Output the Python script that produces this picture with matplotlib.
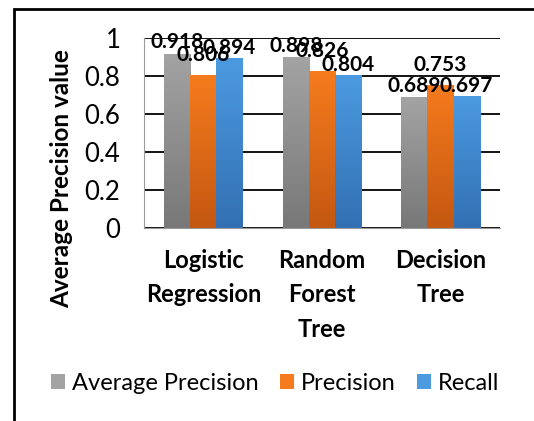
import numpy as np
import matplotlib.pyplot as plt
from matplotlib.patches import Rectangle
from matplotlib.colors import LinearSegmentedColormap

plt.rcParams['font.family'] = ['Lato', 'DejaVu Sans']

# data
categories = ["Logistic\nRegression", "Random\nForest\nTree", "Decision\nTree"]
series = ["Average Precision", "Precision", "Recall"]
avg_precision = [0.918, 0.898, 0.689]
precision = [0.806, 0.826, 0.753]
recall = [0.894, 0.804, 0.697]
labels = ["0.918", "0.898", "0.689"], ["0.806", "0.826", "0.753"], ["0.894", "0.804", "0.697"]

# top / bottom colours of the gradient fill
grads = [("#a3a3a3", "#787878"), ("#f57b1d", "#c45811"), ("#4c9ae0", "#3270b3")]
label_lift = [1, 7, 0]  # points above bar top, per series

fig = plt.figure(figsize=(5.34, 4.21), dpi=100)
ax = fig.add_axes([0.2697, 0.4584, 0.6663, 0.4513])

# outer chart frame (runs off the right / bottom of the picture)
fig.patches.append(Rectangle((14 / 534, -0.1), 1.2, 1 - 9 / 421 + 0.1,
                             transform=fig.transFigure, fill=False,
                             edgecolor="black", linewidth=2))

x = np.arange(len(categories))
w = 0.22
vals = [avg_precision, precision, recall]
for i, (v, lab, (ctop, cbot)) in enumerate(zip(vals, labels, grads)):
    bars = ax.bar(x + (i - 1) * w, v, w, color=ctop, label=series[i], zorder=2)
    cmap = LinearSegmentedColormap.from_list("g%d" % i, [cbot, ctop])
    grad = np.linspace(0, 1, 100).reshape(-1, 1)
    for b in bars:
        x0, y0 = b.get_x(), b.get_y()
        im = ax.imshow(grad, extent=[x0, x0 + b.get_width(), y0, y0 + b.get_height()],
                       origin="lower", aspect="auto", cmap=cmap, zorder=2.5)
        im.set_clip_path(b)
    for xi, yi, t in zip(x + (i - 1) * w, v, lab):
        ax.annotate(t, (xi, yi), xytext=(0, label_lift[i]), textcoords="offset points",
                    ha="center", va="bottom", fontsize=15, fontweight="bold", zorder=5)

ax.set_xlim(-0.5, 2.5)
ax.set_ylim(0, 1)
ax.set_yticks([0, 0.2, 0.4, 0.6, 0.8, 1])
ax.set_yticklabels(["0", "0.2", "0.4", "0.6", "0.8", "1"])
ax.yaxis.grid(True, color="black", linewidth=1.3, zorder=0)
ax.set_axisbelow(True)
ax.tick_params(axis="y", length=0, labelsize=18.5, pad=17)
ax.tick_params(axis="x", length=0, pad=15)
ax.set_xticks(x)
ax.set_xticklabels(categories, fontsize=17, fontweight="bold", linespacing=1.6)

for s in ["top", "right"]:
    ax.spines[s].set_visible(False)
ax.spines["left"].set_color("#9a9a9a")
ax.spines["bottom"].set_color("#9a9a9a")

ax.set_ylabel("Average Precision value", fontsize=17.5, fontweight="bold")
ax.yaxis.set_label_coords(-0.2, 0.26)

fig.legend(loc="center", bbox_to_anchor=(0.515, 0.09), ncol=3, frameon=False,
           fontsize=17, handlelength=0.6, handleheight=0.6, handletextpad=0.3,
           columnspacing=0.9)

fig.savefig("out.png", dpi=100)
